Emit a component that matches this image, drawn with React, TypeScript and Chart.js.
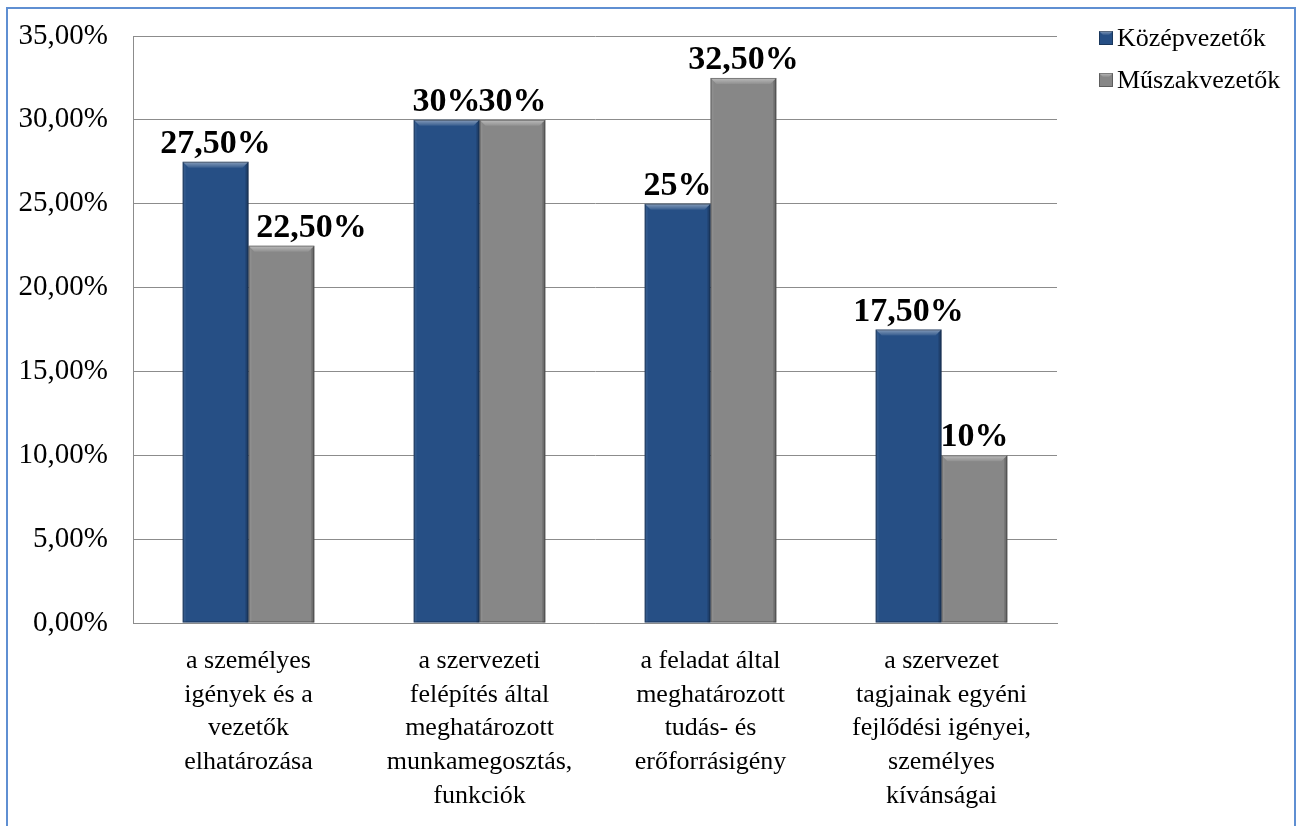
import React, { useEffect, useRef } from "react";
import { Chart, registerables } from "chart.js";

Chart.register(...registerables);

const categories: string[][] = [
  ["a személyes", "igények és a", "vezetők", "elhatározása"],
  ["a szervezeti", "felépítés által", "meghatározott", "munkamegosztás,", "funkciók"],
  ["a feladat által", "meghatározott", "tudás- és", "erőforrásigény"],
  ["a szervezet", "tagjainak egyéni", "fejlődési igényei,", "személyes", "kívánságai"],
];

const seriesNames = ["Középvezetők", "Műszakvezetők"];
const kozepvezetok = [27.5, 30, 25, 17.5];
const muszakvezetok = [22.5, 30, 32.5, 10];
const kozepLabels = ["27,50%", "30%", "25%", "17,50%"];
const muszakLabels = ["22,50%", "30%", "32,50%", "10%"];
const valueLabels = [kozepLabels, muszakLabels];

const yMin = 0;
const yMax = 35;
const yStep = 5;

const colors = ["#264f85", "#878787"];
const FONT = "'Liberation Serif', 'Times New Roman', serif";

const bevelPlugin = {
  id: "bevel",
  afterDatasetsDraw(chart: any) {
    const ctx = chart.ctx;
    chart.data.datasets.forEach((_ds: any, di: number) => {
      const meta = chart.getDatasetMeta(di);
      meta.data.forEach((bar: any) => {
        const w = bar.width;
        const l = bar.x - w / 2;
        const r = bar.x + w / 2;
        const t = bar.y;
        const b = bar.base;
        const bv = 6;
        ctx.save();
        const g = ctx.createLinearGradient(0, t, 0, t + bv);
        g.addColorStop(0, "rgba(255,255,255,0.45)");
        g.addColorStop(1, "rgba(255,255,255,0.08)");
        ctx.fillStyle = g;
        ctx.beginPath();
        ctx.moveTo(l, t);
        ctx.lineTo(r, t);
        ctx.lineTo(r - bv, t + bv);
        ctx.lineTo(l + bv, t + bv);
        ctx.closePath();
        ctx.fill();
        ctx.fillStyle = "rgba(0,0,0,0.18)";
        ctx.beginPath();
        ctx.moveTo(r, t);
        ctx.lineTo(r, b);
        ctx.lineTo(r - 3, b);
        ctx.lineTo(r - 3, t + 3);
        ctx.closePath();
        ctx.fill();
        ctx.fillStyle = "rgba(255,255,255,0.06)";
        ctx.beginPath();
        ctx.moveTo(l, t);
        ctx.lineTo(l + 3, t + 3);
        ctx.lineTo(l + 3, b);
        ctx.lineTo(l, b);
        ctx.closePath();
        ctx.fill();
        ctx.strokeStyle = "rgba(0,0,0,0.35)";
        ctx.lineWidth = 1;
        ctx.strokeRect(l + 0.5, t + 0.5, w - 1, b - t - 1);
        ctx.restore();
      });
    });
  },
};

// label nudges (the second series' first label sits right of its bar in the original)
const labelNudgeX = [[0, 0, 0, 0], [30, 0, 0, 0]];

const valueLabelPlugin = {
  id: "valueLabels",
  afterDatasetsDraw(chart: any) {
    const ctx = chart.ctx;
    ctx.save();
    ctx.font = `bold 34px ${FONT}`;
    ctx.fillStyle = "#000";
    ctx.textAlign = "center";
    ctx.textBaseline = "alphabetic";
    chart.data.datasets.forEach((_ds: any, di: number) => {
      const meta = chart.getDatasetMeta(di);
      meta.data.forEach((bar: any, i: number) => {
        ctx.fillText(valueLabels[di][i], bar.x + labelNudgeX[di][i], bar.y - 9);
      });
    });
    ctx.restore();
  },
};

const legendPlugin = {
  id: "customLegend",
  afterDraw(chart: any) {
    const ctx = chart.ctx;
    ctx.save();
    seriesNames.forEach((name, i) => {
      const cy = 38 + i * 42;
      const bx = 1099;
      const s = 14;
      ctx.fillStyle = colors[i];
      ctx.fillRect(bx, cy - s / 2, s, s);
      const g = ctx.createLinearGradient(0, cy - s / 2, 0, cy - s / 2 + 4);
      g.addColorStop(0, "rgba(255,255,255,0.45)");
      g.addColorStop(1, "rgba(255,255,255,0.05)");
      ctx.fillStyle = g;
      ctx.beginPath();
      ctx.moveTo(bx, cy - s / 2);
      ctx.lineTo(bx + s, cy - s / 2);
      ctx.lineTo(bx + s - 4, cy - s / 2 + 4);
      ctx.lineTo(bx + 4, cy - s / 2 + 4);
      ctx.closePath();
      ctx.fill();
      ctx.strokeStyle = "rgba(0,0,0,0.3)";
      ctx.strokeRect(bx + 0.5, cy - s / 2 + 0.5, s - 1, s - 1);
      ctx.fillStyle = "#000";
      ctx.font = `26px ${FONT}`;
      ctx.textAlign = "left";
      ctx.textBaseline = "middle";
      ctx.fillText(name, bx + 18, cy + 1);
    });
    ctx.restore();
  },
};

export default function App() {
  const canvasRef = useRef<HTMLCanvasElement | null>(null);

  useEffect(() => {
    if (!canvasRef.current) return;
    const chart = new Chart(canvasRef.current, {
      type: "bar",
      data: {
        labels: categories as any,
        datasets: [
          {
            label: seriesNames[0],
            data: kozepvezetok,
            backgroundColor: colors[0],
            barPercentage: 1,
            categoryPercentage: 0.57,
          },
          {
            label: seriesNames[1],
            data: muszakvezetok,
            backgroundColor: colors[1],
            barPercentage: 1,
            categoryPercentage: 0.57,
          },
        ],
      },
      options: {
        animation: false,
        responsive: false,
        maintainAspectRatio: false,
        devicePixelRatio: 1,
        layout: { padding: { left: 0, top: 36, right: 239, bottom: 0 } },
        plugins: {
          legend: { display: false },
          tooltip: { enabled: false },
        },
        scales: {
          x: {
            grid: { display: false, drawTicks: false },
            border: { display: true, color: "#8c8c8c", width: 1 },
            ticks: {
              color: "#000",
              font: { family: FONT, size: 26, lineHeight: 1.3 } as any,
              padding: 21,
              maxRotation: 0,
              autoSkip: false,
            },
            afterFit(scale: any) {
              scale.height = 826 - 623;
              scale.paddingLeft = 0;
              scale.paddingRight = 0;
            },
          },
          y: {
            min: yMin,
            max: yMax,
            grid: { color: "#8c8c8c", drawTicks: false, lineWidth: 1 },
            border: { display: true, color: "#8c8c8c", width: 1 },
            ticks: {
              stepSize: yStep,
              color: "#000",
              padding: 25,
              font: { family: FONT, size: 29 },
              callback: (v: any) => Number(v).toFixed(2).replace(".", ",") + "%",
            },
            afterFit(scale: any) {
              scale.width = 133;
              scale.paddingTop = 0;
              scale.paddingBottom = 0;
            },
          },
        },
      },
      plugins: [bevelPlugin, valueLabelPlugin, legendPlugin],
    });
    return () => chart.destroy();
  }, []);

  return (
    <div style={{ position: "fixed", left: 0, top: 0, width: 1296, height: 826, background: "#fff", overflow: "hidden" }}>
      <canvas ref={canvasRef} width={1296} height={826} style={{ position: "absolute", left: 0, top: 0 }} />
      <div
        style={{
          position: "absolute",
          left: 6,
          top: 7,
          width: 1290,
          height: 840,
          border: "2px solid #5f8fd2",
          boxSizing: "border-box",
          pointerEvents: "none",
        }}
      />
    </div>
  );
}
